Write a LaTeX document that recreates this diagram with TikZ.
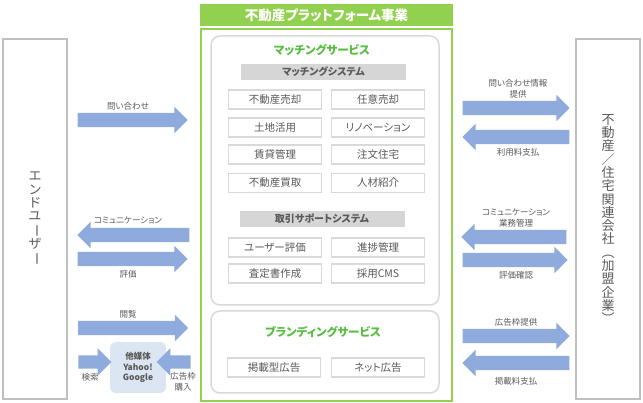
\documentclass[tikz,border=0pt]{standalone}
\usepackage{fontspec}
\usepackage{graphicx}
\setmainfont{Noto Sans CJK JP}[RawFeature=+palt]
\usepackage{tikz}
\usetikzlibrary{shapes.arrows, positioning, calc}
\definecolor{framegray}{HTML}{BFBFBF}
\definecolor{panelgray}{HTML}{D9D9D9}
\definecolor{bargray}{HTML}{D6D6D6}
\definecolor{platgreen}{HTML}{92D050}
\definecolor{titlegreen}{HTML}{55BE3E}
\definecolor{arrowblue}{HTML}{8FAADC}
\definecolor{mediablue}{HTML}{DCE5F2}
\definecolor{textgray}{HTML}{595959}
\newcommand{\choon}{\rotatebox[origin=c]{-90}{ー}}
\tikzset{
	partybox/.style={rectangle, draw=framegray, line width=2.5pt, minimum width=64pt, minimum height=360pt, align=center, text=textgray, font=\fontsize{13}{13.3}\selectfont},
	panel/.style={rectangle, rounded corners=9pt, draw=panelgray, line width=1.5pt, fill=white, minimum width=228pt},
	sysbar/.style={rectangle, fill=bargray, minimum width=165pt, minimum height=16pt, inner sep=0pt, text=textgray, font=\fontsize{10}{12}\selectfont\bfseries},
	itembox/.style={rectangle, draw=panelgray, line width=1.5pt, minimum width=93pt, minimum height=19pt, inner sep=0pt, text=textgray, font=\fontsize{10.5}{12}\selectfont},
	service/.style={text=titlegreen, font=\fontsize{11.5}{13}\selectfont\bfseries},
	flow/.style={single arrow, fill=arrowblue, text height=0pt, text depth=0pt, inner xsep=0pt, inner ysep=7pt, single arrow head extend=6pt, single arrow tip angle=90, minimum height=110pt},
	flowleft/.style={flow, shape border rotate=180},
	flowlabel/.style={align=center, inner sep=0pt, text=textgray, font=\fontsize{8.5}{11.5}\selectfont}
}

\begin{document}
\begin{tikzpicture}[x=1pt, y=-1pt]
	\useasboundingbox (0,0) rectangle (643,403);

	% Plataforma (marco verde y titulo)
	\node (platform) [rectangle, draw=platgreen, line width=2pt, minimum width=251pt, minimum height=372pt] at (326.5,215) {};
	\node (platitle) [rectangle, fill=platgreen, minimum width=253pt, minimum height=22pt, inner sep=0pt, text=white, font=\fontsize{13.5}{15}\selectfont\bfseries] at (326.5,15) {不動産プラットフォーム事業};

	% Matching service
	\node (matching) [panel, minimum height=269pt] at (325,170.5) {};
	\node (matchtitle) [service] at (322,50) {マッチングサービス};
	\node (matchsys) [sysbar] at (323.5,72) {マッチングシステム};
	\node (sale) [itembox] at (275,99.5) {不動産売却};
	\node (volsale) [itembox] at (378,99.5) {任意売却};
	\node (landuse) [itembox] at (275,127.5) {土地活用};
	\node (renov) [itembox] at (378,127.5) {リノベーション};
	\node (rental) [itembox] at (275,154.5) {賃貸管理};
	\node (custom) [itembox] at (378,154.5) {注文住宅};
	\node (purchase) [itembox] at (275,183) {不動産買取};
	\node (staff) [itembox] at (378,183) {人材紹介};
	\node (dealsys) [sysbar] at (322,219) {取引サポートシステム};
	\node (usereval) [itembox] at (275,247.5) {ユーザー評価};
	\node (progress) [itembox] at (378,247.5) {進捗管理};
	\node (appraisal) [itembox] at (275,273.5) {査定書作成};
	\node (recruit) [itembox] at (378,273.5) {採用CMS};

	% Branding service
	\node (branding) [panel, minimum height=82pt] at (325,352) {};
	\node (brandtitle) [service] at (323,332) {ブランディングサービス};
	\node (printad) [itembox] at (274,367.5) {掲載型広告};
	\node (netad) [itembox] at (378,367.5) {ネット広告};

	% Partes externas
	\node (enduser) [partybox] at (35,219) {エ\\ン\\ド\\ユ\\\choon\\ザ\\\choon};
	\node (company) [partybox] at (608,219) {不\\動\\産\\／\\住\\宅\\関\\連\\会\\社\\︵\\加\\盟\\企\\業\\︶};
	\node (media) [rectangle, rounded corners=6pt, fill=mediablue, minimum width=56pt, minimum height=51pt, align=center, text=textgray, font=\fontsize{8.5}{10.5}\selectfont\bfseries] at (138,367.5) {他媒体\\Yahoo!\\Google};

	% Flechas del lado del usuario
	\node (inquiry) [flow] at (129,120) {};
	\node (comm) [flowleft, minimum height=112pt] at (137,235) {};
	\node (review) [flow] at (129,259) {};
	\node (browse) [flow] at (129.5,328) {};
	\node (search) [flow, minimum height=33pt, inner ysep=6.5pt, single arrow head extend=7pt] at (91.5,362) {};
	\node (adbuy) [flowleft, minimum height=34pt, inner ysep=6.5pt, single arrow head extend=7pt] at (177,362) {};
	\node [flowlabel] at (128,106) {問い合わせ};
	\node [flowlabel] at (128,220) {コミュニケーション};
	\node [flowlabel] at (128,274) {評価};
	\node [flowlabel] at (128,314) {閲覧};
	\node [flowlabel] at (90,377) {検索};
	\node [flowlabel] at (183,382) {広告枠\\購入};

	% Flechas del lado de la empresa
	\node (leadinfo) [flow, minimum height=107pt] at (512.5,108) {};
	\node (usefee) [flowleft, minimum height=107pt] at (519.5,137) {};
	\node (bizmgmt) [flowleft, minimum height=105pt] at (517.5,237) {};
	\node (evalcheck) [flow, minimum height=105pt] at (511.5,260) {};
	\node (adslot) [flow, minimum height=107pt] at (512.5,336) {};
	\node (adfee) [flowleft, minimum height=107pt] at (519.5,363) {};
	\node [flowlabel] at (518,89) {問い合わせ情報\\提供};
	\node [flowlabel] at (518,152) {利用料支払};
	\node [flowlabel] at (516,218) {コミュニケーション\\業務管理};
	\node [flowlabel] at (516,275) {評価確認};
	\node [flowlabel] at (516,322) {広告枠提供};
	\node [flowlabel] at (516,381) {掲載料支払};
\end{tikzpicture}
\end{document}
